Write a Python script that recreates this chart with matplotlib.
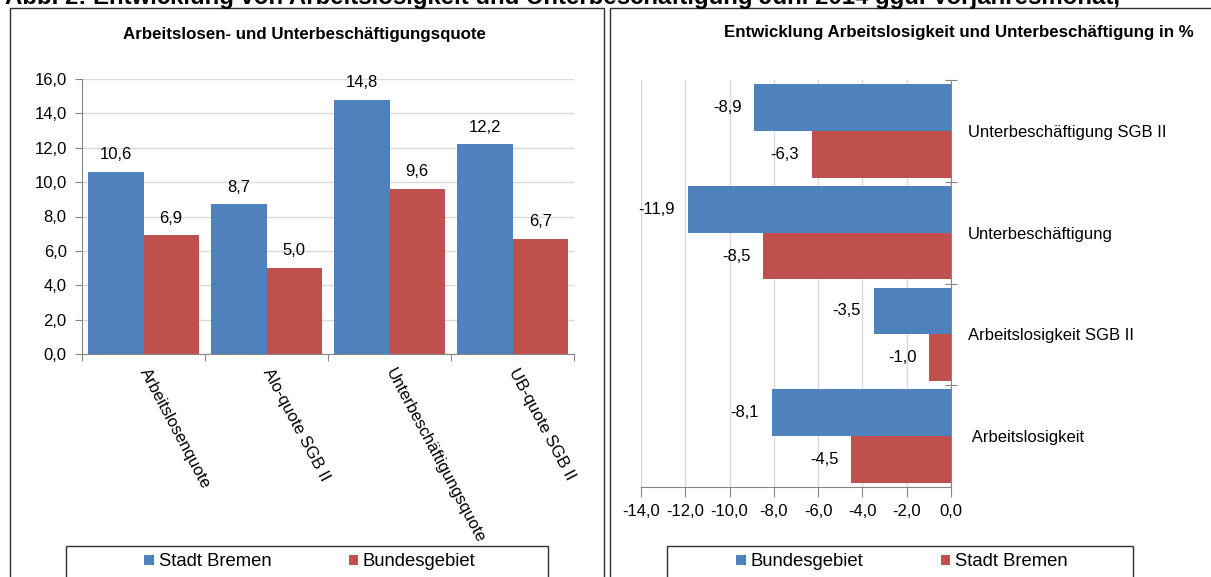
import matplotlib
matplotlib.use("Agg")
import matplotlib.pyplot as plt
import numpy as np
from matplotlib.patches import Rectangle
from matplotlib.ticker import FuncFormatter, MultipleLocator, FixedLocator

plt.rcParams['font.family'] = ['Liberation Sans', 'DejaVu Sans']

# Quoten (left panel)
quote_categories = ["Arbeitslosenquote", "Alo-quote SGB II",
                    "Unterbeschäftigungsquote", "UB-quote SGB II"]
quote_bremen = [10.6, 8.7, 14.8, 12.2]
quote_bund = [6.9, 5.0, 9.6, 6.7]

# Veränderung zum Vorjahresmonat in % (right panel), bottom to top
change_categories = [" Arbeitslosigkeit", "Arbeitslosigkeit SGB II",
                     "Unterbeschäftigung", "Unterbeschäftigung SGB II"]
change_bund = [-8.1, -3.5, -11.9, -8.9]
change_bremen = [-4.5, -1.0, -8.5, -6.3]

BLUE = "#4F81BD"
RED = "#C0504D"
AXIS = "#868686"
GRID = "#D9D9D9"
FRAME = "#303030"

W, H = 1211, 577
fig = plt.figure(figsize=(W / 100, H / 100), dpi=100)


def fx(px):
    return px / W


def fy(py):
    return 1 - py / H


def comma(v, pos=None):
    return f"{v:.1f}".replace(".", ",")


# Heading (runs past the top edge of the canvas)
fig.text(fx(5), fy(4), "Abb. 2: Entwicklung von Arbeitslosigkeit und Unterbeschäftigung Juni 2014 ggü. Vorjahresmonat,",
         fontsize=17.3, fontweight="bold", va="baseline", ha="left")

# Panel frames
for x0, x1 in [(10, 604), (610, 1230)]:
    fig.patches.append(Rectangle((fx(x0), fy(600)), fx(x1) - fx(x0), fy(8) - fy(600),
                                 transform=fig.transFigure, fill=False, ec=FRAME, lw=1.0))

LEG = dict(ncol=2, frameon=False, fontsize=13.3, handlelength=0.49, handleheight=0.49,
           handletextpad=0.27, columnspacing=4.2, loc="center")

# ---------------- left panel ----------------
ax1 = fig.add_axes([fx(82), fy(354), fx(574) - fx(82), fy(79) - fy(354)])
x = np.arange(len(quote_categories))
bw = 0.45
b1 = ax1.bar(x - bw / 2, quote_bremen, bw, color=BLUE, zorder=3)
b2 = ax1.bar(x + bw / 2, quote_bund, bw, color=RED, zorder=3)
ax1.set_xlim(-0.5, len(x) - 0.5)
ax1.set_ylim(0, 16)
ax1.yaxis.set_major_locator(MultipleLocator(2))
ax1.yaxis.set_major_formatter(FuncFormatter(comma))
ax1.grid(axis="y", color=GRID, lw=1, zorder=0)
for s in ["top", "right"]:
    ax1.spines[s].set_visible(False)
for s in ["left", "bottom"]:
    ax1.spines[s].set_color(AXIS)
ax1.xaxis.set_major_locator(FixedLocator(np.arange(-0.5, len(x), 1.0)))
ax1.xaxis.set_major_formatter(FuncFormatter(lambda v, p: ""))
ax1.tick_params(axis="both", colors=AXIS, length=5, labelcolor="black", labelsize=12)
ax1.tick_params(axis="y", pad=6)
for xi, lab in zip(x, quote_categories):
    ax1.text(xi, -0.9, lab, rotation=-62, rotation_mode="anchor", ha="left", va="center",
             fontsize=12)
ax1.bar_label(b1, fmt=comma, padding=7, fontsize=12)
ax1.bar_label(b2, fmt=comma, padding=7, fontsize=12)

fig.text(fx(304), fy(35), "Arbeitslosen- und Unterbeschäftigungsquote",
         ha="center", va="center", fontsize=12.2, fontweight="bold")

fig.patches.append(Rectangle((fx(66), fy(600)), fx(548) - fx(66), fy(546) - fy(600),
                             transform=fig.transFigure, fill=False, ec=FRAME, lw=1.0))
fig.legend(handles=[b1, b2], labels=["Stadt Bremen", "Bundesgebiet"],
           bbox_to_anchor=(fx(310), fy(562)), **LEG)

# ---------------- right panel ----------------
ax2 = fig.add_axes([fx(641), fy(487), fx(951) - fx(641), fy(80) - fy(487)])
y = np.arange(len(change_categories))
bh = 0.46
c1 = ax2.barh(y + bh / 2, change_bund, bh, color=BLUE, zorder=3)
c2 = ax2.barh(y - bh / 2, change_bremen, bh, color=RED, zorder=3)
ax2.set_xlim(-14, 0)
ax2.set_ylim(-0.5, len(y) - 0.5)
ax2.xaxis.set_major_locator(MultipleLocator(2))
ax2.xaxis.set_major_formatter(FuncFormatter(comma))
ax2.grid(axis="x", color=GRID, lw=1, zorder=0)
for s in ["top", "left"]:
    ax2.spines[s].set_visible(False)
for s in ["right", "bottom"]:
    ax2.spines[s].set_color(AXIS)
ax2.yaxis.tick_right()
ax2.yaxis.set_major_locator(FixedLocator(np.arange(0.5, len(y), 1.0)))
ax2.yaxis.set_major_formatter(FuncFormatter(lambda v, p: ""))
ax2.yaxis.set_minor_locator(FixedLocator(y))
ax2.set_yticklabels(change_categories, minor=True)
ax2.tick_params(axis="y", which="major", direction="inout", length=9, colors=AXIS)
ax2.tick_params(axis="y", which="minor", length=0, pad=12, labelsize=12, labelcolor="black")
ax2.tick_params(axis="x", length=7, colors=AXIS, labelcolor="black", labelsize=12, pad=5)
ax2.bar_label(c1, fmt=comma, padding=9, fontsize=12)
ax2.bar_label(c2, fmt=comma, padding=9, fontsize=12)

fig.text(fx(959), fy(33), "Entwicklung Arbeitslosigkeit und Unterbeschäftigung in %",
         ha="center", va="center", fontsize=12.2, fontweight="bold")

fig.patches.append(Rectangle((fx(667), fy(600)), fx(1133) - fx(667), fy(546) - fy(600),
                             transform=fig.transFigure, fill=False, ec=FRAME, lw=1.0))
fig.legend(handles=[c1, c2], labels=["Bundesgebiet", "Stadt Bremen"],
           bbox_to_anchor=(fx(902), fy(562)), **LEG)

fig.savefig("out.png", dpi=100)
